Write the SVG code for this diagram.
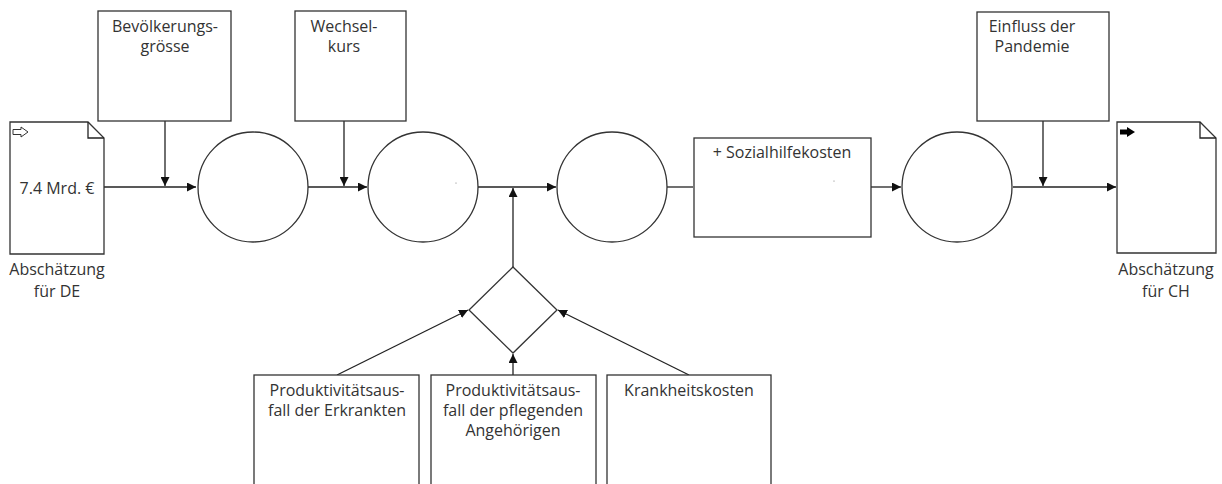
<svg xmlns="http://www.w3.org/2000/svg" width="1222" height="484" viewBox="0 0 1222 484">
<style>
.s{fill:#fff;stroke:#333;stroke-width:1.3}
.t{font-family:"Open Sans","Noto Sans",sans-serif;font-size:16px;fill:#333;text-anchor:middle}
.c{fill:none;stroke:#222;stroke-width:1.3}
</style>
<defs>
<marker id="a" viewBox="0 0 10 10" refX="10" refY="5" markerWidth="9" markerHeight="9" markerUnits="userSpaceOnUse" orient="auto">
<path d="M0,0 L10,5 L0,10 Z" fill="#111"/>
</marker>
</defs>
<rect width="1222" height="484" fill="#fff"/>
<g id="connectors">
<path class="c" d="M104,187 H196" marker-end="url(#a)"/>
<path class="c" d="M165,121 V186" marker-end="url(#a)"/>
<path class="c" d="M308,187 H367" marker-end="url(#a)"/>
<path class="c" d="M344,121 V186" marker-end="url(#a)"/>
<path class="c" d="M478,187 H556" marker-end="url(#a)"/>
<path class="c" d="M513,267 V188" marker-end="url(#a)"/>
<path class="c" d="M667,187 H693"/>
<path class="c" d="M871,187 H901" marker-end="url(#a)"/>
<path class="c" d="M1013,187 H1116" marker-end="url(#a)"/>
<path class="c" d="M1043,121 V186" marker-end="url(#a)"/>
<path class="c" d="M337,375 L468,310" marker-end="url(#a)"/>
<path class="c" d="M513,375 V354" marker-end="url(#a)"/>
<path class="c" d="M689,375 L558,310" marker-end="url(#a)"/>
</g>
<g id="doc-de">
<path class="s" d="M10,122 H88 L104,138 V254 H10 Z"/>
<path class="c" d="M88,122 V138 H104"/>
<path d="M13,129.5 H21 V127 L28,132 L21,137 V134.5 H13 Z" fill="#fff" stroke="#333" stroke-width="1"/>
<text class="t" x="57" y="194">7.4 Mrd. €</text>
<text class="t" x="57" y="275">Abschätzung</text>
<text class="t" x="57" y="297">für DE</text>
</g>
<g id="box-bevoelkerung">
<rect class="s" x="98" y="11" width="133" height="110"/>
<text class="t" x="165" y="32">Bevölkerungs-</text>
<text class="t" x="165" y="52">grösse</text>
</g>
<g id="circle1"><circle class="s" cx="253" cy="187" r="55"/></g>
<g id="box-wechselkurs">
<rect class="s" x="295" y="11" width="111" height="110"/>
<text class="t" x="344" y="32">Wechsel-</text>
<text class="t" x="344" y="52">kurs</text>
</g>
<g id="circle2"><circle class="s" cx="423" cy="187" r="55"/><circle cx="456" cy="183" r="0.6" fill="#777"/></g>
<g id="circle3"><circle class="s" cx="612" cy="187" r="55"/></g>
<g id="box-sozialhilfe">
<rect class="s" x="694" y="138" width="177" height="99"/>
<text class="t" x="782" y="158">+ Sozialhilfekosten</text>
<circle cx="834" cy="181" r="0.6" fill="#777"/>
</g>
<g id="circle4"><circle class="s" cx="957" cy="187" r="55"/></g>
<g id="box-pandemie">
<rect class="s" x="977" y="12" width="132" height="109"/>
<text class="t" x="1032" y="32">Einfluss der</text>
<text class="t" x="1032" y="52">Pandemie</text>
</g>
<g id="doc-ch">
<path class="s" d="M1117,122 H1200 L1216,138 V253 H1117 Z"/>
<path class="c" d="M1200,122 V138 H1216"/>
<path d="M1120,129.5 H1127 V127 L1135,132 L1127,137 V134.5 H1120 Z" fill="#000"/>
<text class="t" x="1166" y="275">Abschätzung</text>
<text class="t" x="1166" y="297">für CH</text>
</g>
<g id="diamond">
<path class="s" d="M513,267 L557,310 L513,353 L469,310 Z"/>
</g>
<g id="box-erkrankte">
<rect class="s" x="254" y="375" width="165" height="120"/>
<text class="t" x="337" y="396">Produktivitätsaus-</text>
<text class="t" x="337" y="416">fall der Erkrankten</text>
</g>
<g id="box-angehoerige">
<rect class="s" x="431" y="375" width="165" height="120"/>
<text class="t" x="513" y="396">Produktivitätsaus-</text>
<text class="t" x="513" y="416">fall der pflegenden</text>
<text class="t" x="513" y="436">Angehörigen</text>
</g>
<g id="box-krankheitskosten">
<rect class="s" x="607" y="375" width="164" height="120"/>
<text class="t" x="689" y="396">Krankheitskosten</text>
</g>
</svg>
